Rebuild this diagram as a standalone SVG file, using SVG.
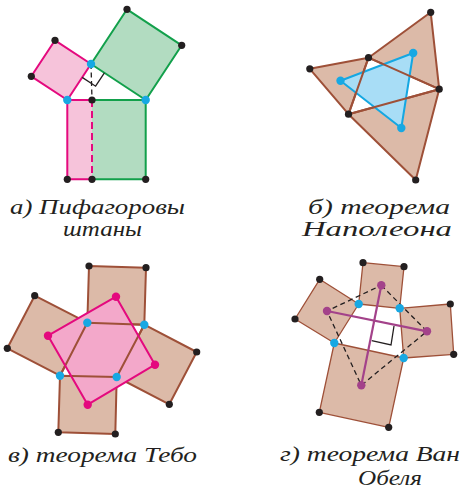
<svg xmlns="http://www.w3.org/2000/svg" width="464" height="490" viewBox="0 0 464 490">
<style>
.lbl{font-family:"Liberation Serif","DejaVu Serif",serif;font-style:italic;font-size:21px;fill:#231f20}
.bd{fill:#231f20}
.bl{fill:#17a8e3}
.br{fill:#dcbaa8;stroke:#9e5038;stroke-width:2;stroke-linejoin:round}
.brd{fill:#dcbaa8;stroke:#9e5038;stroke-width:1.3;stroke-linejoin:round}
.mg{stroke:#e4097e;stroke-width:2;fill:none}
.gr{stroke:#12a04b;stroke-width:2;fill:none}
.dash{stroke:#231f20;stroke-width:1.3;stroke-dasharray:5 3.5;fill:none}
</style>
<rect width="464" height="490" fill="#fff"/>

<g id="panel-a">
  <polygon points="67.3,100 91,64 55,40.3 31.3,76.3" fill="#f6c3da" stroke="#e4097e" stroke-width="2" stroke-linejoin="round"/>
  <polygon points="91,64 145.7,100 181.7,45.3 127,9.3" fill="#b2dcc1" stroke="#12a04b" stroke-width="2" stroke-linejoin="round"/>
  <rect x="67.3" y="100" width="24.7" height="79.3" fill="#f6c3da"/>
  <rect x="92" y="100" width="53.7" height="79.3" fill="#b2dcc1"/>
  <polyline class="mg" points="92,100 67.3,100 67.3,179.3 92,179.3"/>
  <polyline class="gr" points="92,100 145.7,100 145.7,179.3 92,179.3"/>
  <line x1="92" y1="100" x2="92" y2="179.3" stroke="#e4097e" stroke-width="2" stroke-dasharray="7 4"/>
  <line class="dash" x1="91" y1="64" x2="92" y2="100"/>
  <polyline points="82.2,77.4 95.6,86.2 104.4,72.8" fill="none" stroke="#231f20" stroke-width="1.3"/>
  <circle class="bd" cx="55" cy="40.3" r="3.6"/>
  <circle class="bd" cx="31.3" cy="76.3" r="3.6"/>
  <circle class="bd" cx="127" cy="9.3" r="3.6"/>
  <circle class="bd" cx="181.7" cy="45.3" r="3.6"/>
  <circle class="bd" cx="92" cy="100" r="3.6"/>
  <circle class="bd" cx="67.3" cy="179.3" r="3.6"/>
  <circle class="bd" cx="92" cy="179.3" r="3.6"/>
  <circle class="bd" cx="145.7" cy="179.3" r="3.6"/>
  <circle class="bl" cx="91" cy="64" r="4.2"/>
  <circle class="bl" cx="67.3" cy="100" r="4.2"/>
  <circle class="bl" cx="145.7" cy="100" r="4.2"/>
  <text class="lbl" x="10" y="214" textLength="175" lengthAdjust="spacingAndGlyphs">а) Пифагоровы</text>
  <text class="lbl" x="63" y="236" textLength="79" lengthAdjust="spacingAndGlyphs">штаны</text>
</g>

<g id="panel-b">
  <polygon class="br" points="368.5,57.7 430.7,12.3 439.2,89.2"/>
  <polygon class="br" points="368.5,57.7 309.8,68.8 348.5,114.2"/>
  <polygon class="br" points="348.5,114.2 439.2,89.2 415.7,180"/>
  <polygon points="413.2,53 340.5,80.7 401.3,128" fill="#a8ddf6" stroke="#14a7e2" stroke-width="2" stroke-linejoin="round"/>
  <polygon points="368.5,57.7 439.2,89.2 348.5,114.2" fill="none" stroke="#9e5038" stroke-width="2" stroke-linejoin="round"/>
  <circle class="bl" cx="413.2" cy="53" r="4.2"/>
  <circle class="bl" cx="340.5" cy="80.7" r="4.2"/>
  <circle class="bl" cx="401.3" cy="128" r="4.2"/>
  <circle class="bd" cx="430.7" cy="12.3" r="3.6"/>
  <circle class="bd" cx="368.5" cy="57.7" r="3.6"/>
  <circle class="bd" cx="309.8" cy="68.8" r="3.6"/>
  <circle class="bd" cx="439.2" cy="89.2" r="3.6"/>
  <circle class="bd" cx="348.5" cy="114.2" r="3.6"/>
  <circle class="bd" cx="415.7" cy="180" r="3.6"/>
  <text class="lbl" x="308" y="214" textLength="142" lengthAdjust="spacingAndGlyphs">б) теорема</text>
  <text class="lbl" x="302" y="236" textLength="150" lengthAdjust="spacingAndGlyphs">Наполеона</text>
</g>

<g id="panel-c">
  <polygon class="br" points="87.3,322.7 89,266 146,267.7 144.3,324.7"/>
  <polygon class="br" points="87.3,322.7 34.7,295.7 7.3,348.3 60,375.7"/>
  <polygon class="br" points="144.3,324.7 196.7,352 169.3,404.3 116.7,377"/>
  <polygon class="br" points="60,375.7 58.3,432.3 115.3,434 116.7,377"/>
  <polygon points="116,296.7 155,364.7 87.7,404.7 48,335.7" fill="#f3a8ca"/>
  <polygon points="87.3,322.7 144.3,324.7 116.7,377 60,375.7" fill="none" stroke="#9e5038" stroke-width="2" stroke-linejoin="round"/>
  <polygon points="116,296.7 155,364.7 87.7,404.7 48,335.7" fill="none" stroke="#e4097e" stroke-width="2" stroke-linejoin="round"/>
  <circle class="bd" cx="89" cy="266" r="3.6"/>
  <circle class="bd" cx="146" cy="267.7" r="3.6"/>
  <circle class="bd" cx="34.7" cy="295.7" r="3.6"/>
  <circle class="bd" cx="7.3" cy="348.3" r="3.6"/>
  <circle class="bd" cx="196.7" cy="352" r="3.6"/>
  <circle class="bd" cx="169.3" cy="404.3" r="3.6"/>
  <circle class="bd" cx="58.3" cy="432.3" r="3.6"/>
  <circle class="bd" cx="115.3" cy="434" r="3.6"/>
  <circle fill="#e4097e" cx="116" cy="296.7" r="4.2"/>
  <circle fill="#e4097e" cx="48" cy="335.7" r="4.2"/>
  <circle fill="#e4097e" cx="155" cy="364.7" r="4.2"/>
  <circle fill="#e4097e" cx="87.7" cy="404.7" r="4.2"/>
  <circle class="bl" cx="87.3" cy="322.7" r="4.2"/>
  <circle class="bl" cx="144.3" cy="324.7" r="4.2"/>
  <circle class="bl" cx="116.7" cy="377" r="4.2"/>
  <circle class="bl" cx="60" cy="375.7" r="4.2"/>
  <text class="lbl" x="8" y="462" textLength="189" lengthAdjust="spacingAndGlyphs">в) теорема Тебо</text>
</g>

<g id="panel-d">
  <polygon class="brd" points="358.7,304 363,262.7 404,266.7 399.7,308.3"/>
  <polygon class="brd" points="358.7,304 319.7,279.3 295,319 334.3,343"/>
  <polygon class="brd" points="399.7,308.3 450.3,304 453.7,354.3 403.7,358"/>
  <polygon class="brd" points="334.3,343 319.3,412.3 388.7,427.3 403.7,358"/>
  <polygon class="dash" points="381.3,285.3 427,331.3 361.3,385.3 327,311"/>
  <polyline points="371.7,340.7 391,345 394,326" fill="none" stroke="#231f20" stroke-width="1.3"/>
  <line x1="327" y1="311" x2="427" y2="331.3" stroke="#a3428a" stroke-width="2.2"/>
  <line x1="381.3" y1="285.3" x2="361.3" y2="385.3" stroke="#a3428a" stroke-width="2.2"/>
  <circle class="bd" cx="363" cy="262.7" r="3.6"/>
  <circle class="bd" cx="404" cy="266.7" r="3.6"/>
  <circle class="bd" cx="319.7" cy="279.3" r="3.6"/>
  <circle class="bd" cx="295" cy="319" r="3.6"/>
  <circle class="bd" cx="450.3" cy="304" r="3.6"/>
  <circle class="bd" cx="453.7" cy="354.3" r="3.6"/>
  <circle class="bd" cx="319.3" cy="412.3" r="3.6"/>
  <circle class="bd" cx="388.7" cy="427.3" r="3.6"/>
  <circle fill="#a3428a" cx="381.3" cy="285.3" r="4.2"/>
  <circle fill="#a3428a" cx="327" cy="311" r="4.2"/>
  <circle fill="#a3428a" cx="427" cy="331.3" r="4.2"/>
  <circle fill="#a3428a" cx="361.3" cy="385.3" r="4.2"/>
  <circle class="bl" cx="358.7" cy="304" r="4.2"/>
  <circle class="bl" cx="399.7" cy="308.3" r="4.2"/>
  <circle class="bl" cx="403.7" cy="358" r="4.2"/>
  <circle class="bl" cx="334.3" cy="343" r="4.2"/>
  <text class="lbl" x="280" y="461" textLength="180" lengthAdjust="spacingAndGlyphs">г) теорема Ван</text>
  <text class="lbl" x="358" y="485" textLength="64" lengthAdjust="spacingAndGlyphs">Обеля</text>
</g>
</svg>
